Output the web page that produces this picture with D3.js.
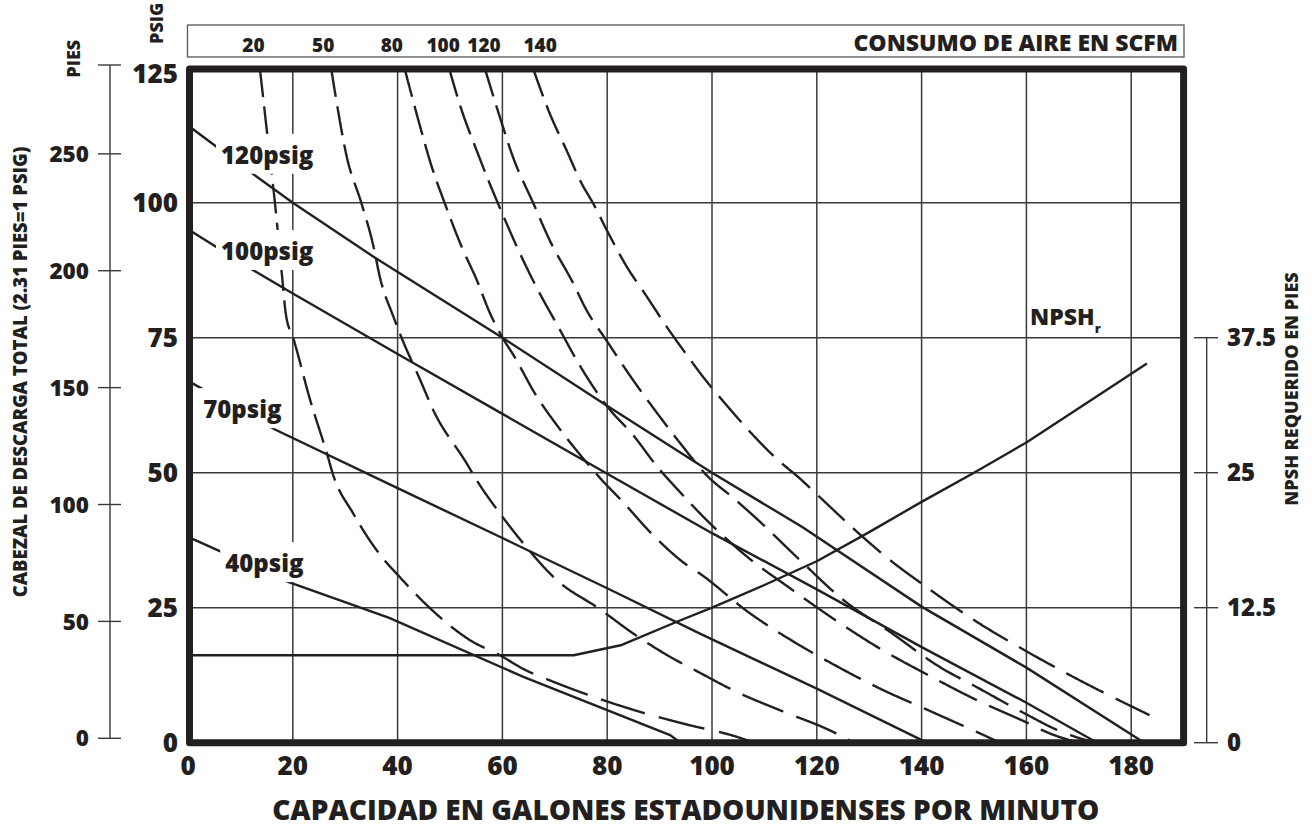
<!DOCTYPE html>
<html><head><meta charset="utf-8">
<script src="https://cdn.jsdelivr.net/npm/d3@7"></script>
<style>
html,body{margin:0;padding:0;background:#fff;}
svg{display:block;font-family:"Open Sans",sans-serif;font-weight:800;}
</style></head><body>
<svg id="chart" width="1312" height="827"></svg>
<script>
// ---------- DATA ----------
const flowTicks = [0,20,40,60,80,100,120,140,160,180];
const headTicks = [0,25,50,75,100,125];
const feetTicks = [0,50,100,150,200,250];
const npshTicks = [0,12.5,25,37.5];
const airLabels = ["20","50","80","100","120","140"];
const airLabelFlow = [12.5,25.8,38.9,48.7,56.5,67.2];

// solid performance lines (flow gpm, head psig)
const psig120Flow = [0,12.3,20,35.4,60,79.3,100,117.3,140,160,182.5];
const psig120Head = [114.3,105.4,100,90,75,62.8,50,39.9,25.2,13.9,0];
const psig100Flow = [0,12.3,20,40.5,60,80,100,120,140.2,160,173.5];
const psig100Head = [95.1,87.6,83.2,71.7,60.9,49.8,38.8,28.4,17.6,7.4,0];
const psig70Flow  = [0,16.6,40.1,60,80,97.7,120,141];
const psig70Head  = [67,58,47.1,37.9,28.6,20.2,10,0];
const psig40Flow  = [0,19.1,38.4,64,92,94];
const psig40Head  = [38.1,29.8,23.1,12.2,1.4,0];

// NPSHr (feet)
const npshFlow = [0,73.6,82.8,93.3,100,110,120,130,140,150,160,171,183];
const npshFeet = [8.1,8.1,9.05,11.2,12.5,14.6,16.8,19.5,22.3,25,27.8,31.3,35.1];

// dashed air consumption lines (SCFM)
const scfm20Flow = [13.7,15.1,16.6,17.9,18.7,20.1,23.3,26.5,27.7,31.5,36.9,40.1,46.2,53.8,59.5,64.3,69.7,77.4,86.3,95.5,104.7,108];
const scfm20Head = [125,112.9,99.9,86.9,79.2,74.9,63.5,53.6,49.6,42.5,34.5,31,24.9,19,16.2,13.5,11.3,8.5,5.7,3.3,1.1,0];
const scfm50Flow = [27.3,28.4,30.3,33.1,35.4,36.6,39.2,40.8,44.3,46.8,53.2,55.1,59.5,64,70.4,78.5,85,92,97.4,104.7,113,123.1,127];
const scfm50Head = [125,118.4,108.5,99.9,91.9,86.3,78.9,74.9,67.2,61.6,51.7,48.6,42.5,36.9,30.1,24.8,20.2,15.9,13.1,9.4,6,2,0];
const scfm80Flow = [41.3,44.3,46.5,49,52.2,55.1,57.6,59.9,62.1,66.5,70.4,75.1,79.3,82.4,88.8,95.2,97.7,106.9,116.1,122.8,132.1,141.3,150.5,155];
const scfm80Head = [125,114.1,106.7,99.9,91.9,85.7,79.6,75.2,71.8,64.2,58.8,53,48.3,45.2,38.4,32.9,31.3,24.2,18.4,14.7,10,6,2,0];
const scfm100Flow = [49.8,52.2,54.8,57.3,60.2,63.3,66.8,70.5,74.8,77.4,79.9,85,89.4,93.9,99,103.4,107.9,113.6,123.1,132.1,141.3,150.5,159.7,164.5,170];
const scfm100Head = [125,117.2,110.4,104.2,97.5,90.7,83.8,77.3,69.8,65.8,62.4,56.9,51.3,46.4,41.2,37.2,33.5,29.5,23,17.4,12.5,7.9,3.9,1.7,0];
const scfm120Flow = [56.6,59.5,62,65.9,69,73.5,76,80,84.4,89.4,93.9,99,104.1,108.5,116.8,125.1,134,143.5,150.5,159.7,166,173];
const scfm120Head = [125,115.9,108.5,99.9,93.1,85.1,80.2,74.3,67.9,61.2,55.5,49.5,45.3,41.5,33.8,26.4,20.5,14,10.3,5.4,2.3,0];
const scfm140Flow = [65.8,69,72.2,75.1,77.3,80.2,83.7,87.5,91.3,95.8,97.7,103.4,107.9,112.3,116.8,120,128.2,134,140.1,150.5,159.7,168.9,183.5];
const scfm140Head = [125,116.6,109.8,103.6,99.9,94.4,88.2,82.7,77.1,71,68.5,61.8,56.9,52.6,48.9,46,38.6,33.8,29.4,22.4,17.1,12.2,5.1];

// ---------- DRAWING ----------
const INK = "#231f20";
const GRID = "#3a3a3a";
const svg = d3.select("#chart");
const x = d3.scaleLinear().domain([0,190]).range([188,1183.6]);
const y = d3.scaleLinear().domain([0,125]).range([742.7,67.7]);
const feet = d3.scaleLinear().domain([0,288]).range([738.3,65]);
const npsh = d3.scaleLinear().domain([0,62.5]).range([742.7,67.7]);

const zip = (a,b)=>a.map((v,i)=>[v,b[i]]);

// grid
const grid = svg.append("g").attr("stroke",GRID).attr("stroke-width",1.5);
grid.selectAll("line.v").data(flowTicks.filter(v=>v>0)).join("line")
  .attr("x1",d=>x(d)).attr("x2",d=>x(d)).attr("y1",y(125)).attr("y2",y(0));
grid.selectAll("line.h").data(headTicks.filter(v=>v>0&&v<125)).join("line")
  .attr("x1",x(0)).attr("x2",x(190)).attr("y1",d=>y(d)).attr("y2",d=>y(d));

// solid lines
const lineLin = d3.line().x(d=>x(d[0])).y(d=>y(d[1]));
const solids = [zip(psig120Flow,psig120Head),zip(psig100Flow,psig100Head),zip(psig70Flow,psig70Head),zip(psig40Flow,psig40Head)];
svg.append("g").selectAll("path").data(solids).join("path")
  .attr("d",lineLin).attr("fill","none").attr("stroke",INK).attr("stroke-width",2.4);

// NPSH line
const lineNpsh = d3.line().x(d=>x(d[0])).y(d=>npsh(d[1]));
svg.append("path").datum(zip(npshFlow,npshFeet)).attr("d",lineNpsh)
  .attr("fill","none").attr("stroke",INK).attr("stroke-width",2.4).attr("stroke-linejoin","round");

// dashed lines, dash measured in a horizontally compressed space
const lineCurve = d3.line().x(d=>x(d[0])).y(d=>y(d[1])).curve(d3.curveMonotoneX);
function dashed(d, dash, gap, sx){
  const tmp = svg.append("path").attr("d",d).attr("fill","none");
  const node = tmp.node(); const L = node.getTotalLength();
  let prev = node.getPointAtLength(0);
  let out = "M"+prev.x.toFixed(2)+","+prev.y.toFixed(2);
  let on = true, acc = 0;
  for (let s=0.5; s<=L+0.25; s+=0.5){
    const p = node.getPointAtLength(Math.min(s,L));
    acc += Math.hypot((p.x-prev.x)/sx, p.y-prev.y);
    if (on) out += "L"+p.x.toFixed(2)+","+p.y.toFixed(2);
    if (acc >= (on?dash:gap)) { acc = 0; on = !on; if (on) out += "M"+p.x.toFixed(2)+","+p.y.toFixed(2); }
    prev = p;
  }
  tmp.remove();
  return out;
}
const dashes = [zip(scfm20Flow,scfm20Head),zip(scfm50Flow,scfm50Head),zip(scfm80Flow,scfm80Head),
  zip(scfm100Flow,scfm100Head),zip(scfm120Flow,scfm120Head),zip(scfm140Flow,scfm140Head)];
svg.append("g").selectAll("path").data(dashes).join("path")
  .attr("d",d=>dashed(lineCurve(d),29,9,1.7))
  .attr("fill","none").attr("stroke",INK).attr("stroke-width",2.4);

// psig labels with white knock-out boxes
const psigLabels = [["120psig",6.3,107.2],["100psig",6.3,89.4],["70psig",2.9,60.1],["40psig",7.1,31.6]];
psigLabels.forEach(([t,fq,fh])=>{
  const g = svg.append("g");
  const r = g.append("rect").attr("fill","#fff");
  const tx = g.append("text").attr("x",x(fq)).attr("y",y(fh)).attr("font-size",24).attr("fill",INK).text(t);
  const w = tx.node().getComputedTextLength();
  r.attr("x",x(fq)-5).attr("y",y(fh)-30).attr("width",w+10).attr("height",40);
});

// NPSHr label
const nl = svg.append("text").attr("x",x(160.7)).attr("y",y(77.4)).attr("font-size",23).attr("fill",INK);
nl.append("tspan").text("NPSH");
nl.append("tspan").attr("font-size",13).attr("dy",8).text("r");

// frame
svg.append("rect").attr("x",x(0)+1.5).attr("y",y(125)+1.3).attr("width",x(190)-x(0)-1.5).attr("height",y(0)-y(125)-1.3)
  .attr("fill","none").attr("stroke",INK).attr("stroke-width",7).attr("stroke-linejoin","round");

// main y labels
svg.append("g").selectAll("text").data(headTicks).join("text")
  .attr("x",178).attr("y",d=>y(d)+(d===125?6:0)).attr("dy","0.36em").attr("text-anchor","end")
  .attr("font-size",26).attr("fill",INK).text(d=>d);

// x labels
svg.append("g").selectAll("text").data(flowTicks).join("text")
  .attr("x",d=>x(d)).attr("y",775).attr("text-anchor","middle")
  .attr("font-size",26).attr("fill",INK).text(d=>d);
svg.append("text").attr("x",(x(0)+x(190))/2).attr("y",819.5).attr("text-anchor","middle")
  .attr("font-size",28).attr("fill",INK).text("CAPACIDAD EN GALONES ESTADOUNIDENSES POR MINUTO");

// left feet axis
const fa = svg.append("g");
fa.append("line").attr("x1",110).attr("x2",110).attr("y1",feet(288)).attr("y2",feet(0)).attr("stroke",GRID).attr("stroke-width",1.4);
fa.selectAll("line.t").data(feetTicks.concat([288])).join("line")
  .attr("x1",98).attr("x2",121).attr("y1",d=>feet(d)).attr("y2",d=>feet(d)).attr("stroke",GRID).attr("stroke-width",1.4);
fa.selectAll("text").data(feetTicks).join("text")
  .attr("x",89).attr("y",d=>feet(d)).attr("dy","0.36em").attr("text-anchor","end")
  .attr("font-size",22.5).attr("fill",INK).text(d=>d);
svg.append("text").attr("transform","translate(80.4,58.7) rotate(-90)").attr("text-anchor","middle")
  .attr("font-size",18).attr("fill",INK).text("PIES");
svg.append("text").attr("transform","translate(162.6,23.3) rotate(-90)").attr("text-anchor","middle")
  .attr("font-size",18).attr("fill",INK).text("PSIG");
svg.append("text").attr("transform","translate(27,372) rotate(-90)").attr("text-anchor","middle")
  .attr("font-size",18.5).attr("fill",INK).text("CABEZAL DE DESCARGA TOTAL (2.31 PIES=1 PSIG)");

// right NPSH axis
const ra = svg.append("g");
ra.append("line").attr("x1",1206.7).attr("x2",1206.7).attr("y1",npsh(37.5)).attr("y2",npsh(0)).attr("stroke",GRID).attr("stroke-width",1.4);
ra.selectAll("line.t").data(npshTicks).join("line")
  .attr("x1",1194).attr("x2",1218).attr("y1",d=>npsh(d)).attr("y2",d=>npsh(d)).attr("stroke",GRID).attr("stroke-width",1.4);
ra.selectAll("text").data(npshTicks).join("text")
  .attr("x",1227).attr("y",d=>npsh(d)).attr("dy","0.36em")
  .attr("font-size",24).attr("fill",INK).text(d=>d);
svg.append("text").attr("transform","translate(1298,389) rotate(-90)").attr("text-anchor","middle")
  .attr("font-size",18).attr("fill",INK).text("NPSH REQUERIDO EN PIES");

// top air consumption box
svg.append("rect").attr("x",187.5).attr("y",25).attr("width",1184-187.5).attr("height",32)
  .attr("fill","none").attr("stroke","#555").attr("stroke-width",1.3);
svg.append("g").selectAll("text").data(airLabels).join("text")
  .attr("x",(d,i)=>x(airLabelFlow[i])).attr("y",51.5).attr("text-anchor","middle")
  .attr("font-size",19).attr("fill",INK).text(d=>d);
svg.append("text").attr("x",1178).attr("y",50.7).attr("text-anchor","end")
  .attr("font-size",23).attr("fill",INK).text("CONSUMO DE AIRE EN SCFM");
</script>
</body></html>
